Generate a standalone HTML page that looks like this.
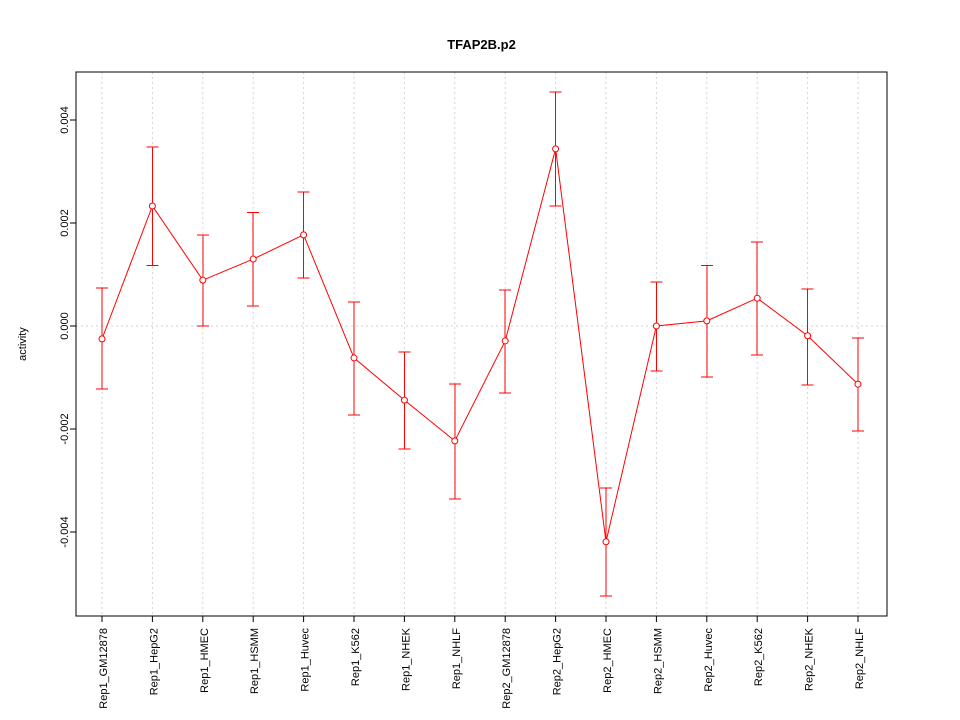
<!DOCTYPE html>
<html><head><meta charset="utf-8"><style>
body{margin:0;background:#fff;}
svg{display:block;font-family:"Liberation Sans",sans-serif;}
</style></head><body>
<svg id="chart" width="960" height="720"></svg>
<script>
const categories=["Rep1_GM12878","Rep1_HepG2","Rep1_HMEC","Rep1_HSMM","Rep1_Huvec","Rep1_K562","Rep1_NHEK","Rep1_NHLF","Rep2_GM12878","Rep2_HepG2","Rep2_HMEC","Rep2_HSMM","Rep2_Huvec","Rep2_K562","Rep2_NHEK","Rep2_NHLF"];
const values=[-0.00025,0.00233,0.00089,0.0013,0.00177,-0.00062,-0.00144,-0.00223,-0.00029,0.00344,-0.00419,0.0,0.0001,0.00054,-0.00019,-0.00113];
const upper=[0.00074,0.00348,0.00177,0.0022,0.0026,0.00047,-0.0005,-0.00113,0.0007,0.00454,-0.00315,0.00085,0.00117,0.00163,0.00072,-0.00023];
const lower=[-0.00122,0.00117,0.0,0.00039,0.00093,-0.00173,-0.00239,-0.00336,-0.0013,0.00233,-0.00524,-0.00087,-0.00099,-0.00056,-0.00115,-0.00204];
const yTicks=[-0.004,-0.002,0,0.002,0.004];
const yTickLabels=["-0.004","-0.002","0.000","0.002","0.004"];
const NS="http://www.w3.org/2000/svg";
const svg=document.getElementById('chart');
const L=76,R=887,T=72,B=616;
const x=i=>102+i*(858-102)/(categories.length-1);
const y=v=>326-v*51500;
function mk(tag,attrs,name,parent){const e=document.createElementNS(NS,tag);for(const k in attrs)e.setAttribute(k,attrs[k]);


(parent||svg).appendChild(e);return e;}
categories.forEach((c,i)=>{mk('line',{x1:x(i),x2:x(i),y1:T,y2:B,stroke:'#d3d3d3','stroke-dasharray':'2,3'},'grid-line-x');});
mk('line',{x1:L,x2:R,y1:y(0),y2:y(0),stroke:'#d3d3d3','stroke-dasharray':'2,3'},'grid-line-zero');
mk('rect',{x:L,y:T,width:R-L,height:B-T,fill:'none',stroke:'#000','shape-rendering':'crispEdges'},'plot-frame');
const t=mk('text',{x:(L+R)/2,y:49,'text-anchor':'middle','font-size':13,'font-weight':'bold'},'chart-title');t.textContent='TFAP2B.p2';
const yl=mk('text',{x:0,y:0,transform:'translate(26,344) rotate(-90)','text-anchor':'middle','font-size':11},'y-axis-title');yl.textContent='activity';
yTicks.forEach((v,i)=>{mk('line',{x1:L-6,x2:L,y1:y(v),y2:y(v),stroke:'#000'},'y-tick');
const tx=mk('text',{x:0,y:0,transform:`translate(${L-8},${y(v)}) rotate(-90)`,'text-anchor':'middle','font-size':11},'y-tick-label');tx.textContent=yTickLabels[i];});
categories.forEach((c,i)=>{mk('line',{x1:x(i),x2:x(i),y1:B,y2:B+6,stroke:'#000'},'x-tick');
const tx=mk('text',{x:0,y:0,transform:`translate(${x(i)+5},${B+12}) rotate(-90)`,'text-anchor':'end','font-size':11},'x-tick-label');tx.textContent=c;});
mk('polyline',{points:values.map((v,i)=>x(i)+','+y(v)).join(' '),fill:'none',stroke:'#ff0000'},'series-line');
values.forEach((v,i)=>{
mk('line',{x1:x(i),x2:x(i),y1:y(upper[i]),y2:y(lower[i]),stroke:'#ff0000','shape-rendering':'crispEdges'},'error-bar');
mk('line',{x1:x(i)-6,x2:x(i)+6,y1:y(upper[i]),y2:y(upper[i]),stroke:'#ff0000','shape-rendering':'crispEdges'},'error-cap-upper');
mk('line',{x1:x(i)-6,x2:x(i)+6,y1:y(lower[i]),y2:y(lower[i]),stroke:'#ff0000','shape-rendering':'crispEdges'},'error-cap-lower');
mk('circle',{cx:x(i),cy:y(v),r:3,fill:'#fff',stroke:'#ff0000'},'data-point');
});
</script>
</body></html>
